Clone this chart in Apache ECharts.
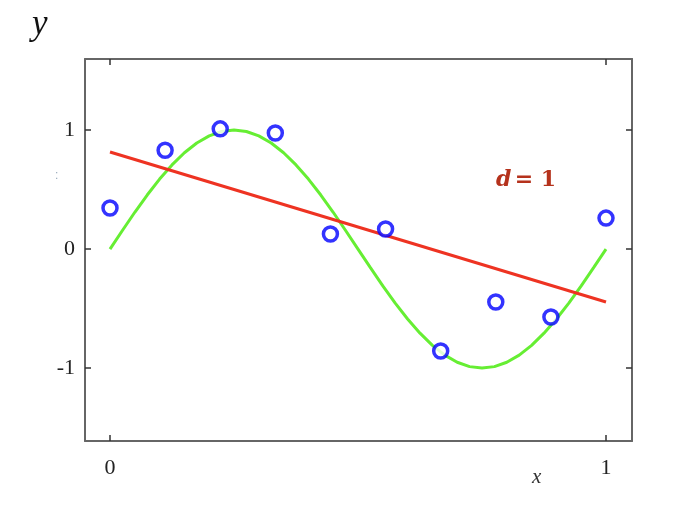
<!DOCTYPE html>
<html>
<head>
<meta charset="utf-8">
<script src="https://cdn.jsdelivr.net/npm/echarts@6/dist/echarts.min.js"></script>
<style>html,body{margin:0;padding:0;background:#fff;}#c{width:674px;height:512px;}</style>
</head>
<body>
<div id="c"></div>
<script>
// Observed sample points (x, y)
const sampleX = [0, 0.1111, 0.2222, 0.3333, 0.4444, 0.5556, 0.6667, 0.7778, 0.8889, 1];
const sampleY = [0.345, 0.83, 1.01, 0.975, 0.126, 0.168, -0.857, -0.445, -0.571, 0.26];
// Underlying curve
const curveX = [0, 0.025, 0.05, 0.075, 0.1, 0.125, 0.15, 0.175, 0.2, 0.225, 0.25, 0.275, 0.3, 0.325, 0.35, 0.375, 0.4, 0.425, 0.45, 0.475, 0.5,
                0.525, 0.55, 0.575, 0.6, 0.625, 0.65, 0.675, 0.7, 0.725, 0.75, 0.775, 0.8, 0.825, 0.85, 0.875, 0.9, 0.925, 0.95, 0.975, 1];
const curveY = [0, 0.156, 0.309, 0.454, 0.588, 0.707, 0.809, 0.891, 0.951, 0.988, 1.0, 0.988, 0.951, 0.891, 0.809, 0.707, 0.588, 0.454, 0.309, 0.156, 0,
                -0.156, -0.309, -0.454, -0.588, -0.707, -0.809, -0.891, -0.951, -0.988, -1.0, -0.988, -0.951, -0.891, -0.809, -0.707, -0.588, -0.454, -0.309, -0.156, 0];
// Degree-1 fit line endpoints
const fitX = [0, 1];
const fitY = [0.815, -0.445];
// Tick labels
const xTicks = [0, 1];
const yTicks = [-1, 0, 1];

const zip = (a, b) => a.map((v, i) => [v, b[i]]);
const chart = echarts.init(document.getElementById('c'), null, {renderer: 'canvas'});
const frameLine = {show: true, onZero: false, lineStyle: {color: '#666', width: 2}};
const tickStyle = {show: true, inside: true, length: 6, lineStyle: {color: '#333', width: 1.5}};
chart.setOption({
  animation: false,
  backgroundColor: '#fff',
  grid: {left: 85, top: 59, right: 42, bottom: 71, containLabel: false},
  xAxis: [
    {type: 'value', min: -0.0504, max: 1.0524, position: 'bottom',
     axisLine: frameLine, splitLine: {show: false},
     axisTick: Object.assign({customValues: xTicks}, tickStyle),
     axisLabel: {customValues: xTicks, margin: 16, color: '#222', fontSize: 22, fontFamily: 'Liberation Serif'}},
    {type: 'value', min: -0.0504, max: 1.0524, position: 'top',
     axisLine: frameLine, splitLine: {show: false},
     axisTick: Object.assign({customValues: xTicks}, tickStyle),
     axisLabel: {show: false}}
  ],
  yAxis: [
    {type: 'value', min: -1.613, max: 1.597, position: 'left',
     axisLine: frameLine, splitLine: {show: false},
     axisTick: Object.assign({customValues: yTicks}, tickStyle),
     axisLabel: {customValues: yTicks, margin: 10, color: '#222', fontSize: 22, fontFamily: 'Liberation Serif'}},
    {type: 'value', min: -1.613, max: 1.597, position: 'right',
     axisLine: frameLine, splitLine: {show: false},
     axisTick: Object.assign({customValues: yTicks}, tickStyle),
     axisLabel: {show: false}}
  ],
  graphic: [
    {type: 'text', left: 32, top: 7, style: {text: 'y', font: 'italic 35px "Liberation Serif"', fill: '#111'}},
    {type: 'text', left: 532, top: 467, style: {text: 'x', font: 'italic 21px "Liberation Serif"', fill: '#333'}},
    {type: 'text', left: 496, top: 169, style: {
      text: '{i|d} {n|= 1}',
      rich: {
        i: {font: 'italic bold 22px "DejaVu Serif"', fill: '#b5321c'},
        n: {font: 'bold 22px "DejaVu Serif"', fill: '#b5321c'}
      }
    }},
    {type: 'text', left: 55, top: 170, style: {text: ':', font: '12px sans-serif', fill: '#9ab'}}
  ],
  series: [
    {type: 'line', data: zip(curveX, curveY), showSymbol: false,
     lineStyle: {color: '#66ee33', width: 3}, z: 2},
    {type: 'line', data: zip(fitX, fitY), showSymbol: false,
     lineStyle: {color: '#ee3322', width: 3}, z: 3},
    {type: 'scatter', data: zip(sampleX, sampleY), symbol: 'circle', symbolSize: 14,
     itemStyle: {color: '#fff', borderColor: '#0000ff', borderWidth: 3.5}, z: 4}
  ]
});
</script>
</body>
</html>
